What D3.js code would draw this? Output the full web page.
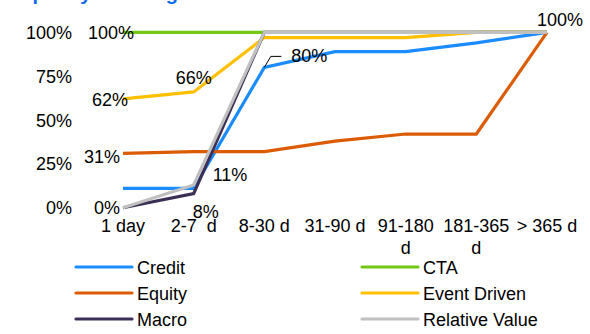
<!DOCTYPE html>
<html lang="en">
<head>
    <meta charset="UTF-8">
    <title>Liquidity Profiling</title>
    <script src="https://d3js.org/d3.v7.min.js"></script>
    <style>
        body {
            margin: 0;
            background: #ffffff;
        }
        text {
            font-family: "Liberation Sans", Arial, sans-serif;
            font-size: 18px;
            fill: #000000;
        }
    </style>
</head>
<body>
    <script>
        // data
        var categories = ["1 day", "2-7 d", "8-30 d", "31-90 d", "91-180 d", "181-365 d", "> 365 d"];
        var credit = [11, 11, 80, 89, 89, 94, 100];
        var cta = [100, 100, 100, 100, 100, 100, 100];
        var equity = [31, 32, 32, 38, 42, 42, 100];
        var eventDriven = [62, 66, 97, 97, 97, 100, 100];
        var macro = [0, 8, 100, 100, 100, 100, 100];
        var relativeValue = [0, 13, 100, 100, 100, 100, 100];
        var yTicks = [0, 25, 50, 75, 100];

        var seriesNames = ["Credit", "CTA", "Equity", "Event Driven", "Macro", "Relative Value"];
        var seriesValues = [credit, cta, equity, eventDriven, macro, relativeValue];
        var colors = ["#1a8cff", "#72c814", "#dc5c06", "#ffc000", "#3c2f56", "#c0c0c0"];

        var w = 590;
        var h = 334;

        var svg = d3.select("body")
            .append("svg")
            .attr("width", w)
            .attr("height", h);

        var xScale = d3.scalePoint()
            .domain(categories)
            .range([123, 547]);

        var yScale = d3.scaleLinear()
            .domain([0, 100])
            .range([207.7, 32.3]);

        // title, mostly cut off at the top
        svg.append("text")
            .attr("x", 8)
            .attr("y", 0)
            .text("Liquidity Profiling")
            .style("font-weight", "bold")
            .style("font-size", "20px")
            .style("fill", "#0a6cf0");

        // y axis labels only (no axis line)
        svg.selectAll(".ytick")
            .data(yTicks)
            .enter()
            .append("text")
            .attr("class", "ytick")
            .attr("x", 72)
            .attr("y", function (d) { return yScale(d) + 6.5; })
            .attr("text-anchor", "end")
            .text(function (d) { return d + "%"; });

        // x axis labels, long ones wrap onto a second line
        var xLabels = svg.selectAll(".xtick")
            .data(categories)
            .enter()
            .append("text")
            .attr("class", "xtick")
            .attr("text-anchor", "middle")
            .attr("y", 232);

        xLabels.each(function (d) {
            var el = d3.select(this);
            var x = xScale(d);
            var lines;
            if (d == "91-180 d" || d == "181-365 d") {
                lines = d.split(" ");
            } else if (d == "2-7 d") {
                lines = ["2-7\u00a0\u00a0d"];
            } else {
                lines = [d];
            }
            lines.forEach(function (t, i) {
                el.append("tspan")
                    .attr("x", x)
                    .attr("dy", i == 0 ? 0 : 22)
                    .text(t);
            });
        });

        var line = d3.line()
            .x(function (d, i) { return xScale(categories[i]); })
            .y(function (d) { return yScale(d); });

        svg.selectAll(".series")
            .data(seriesValues)
            .enter()
            .append("path")
            .attr("class", "series")
            .attr("d", function (d) { return line(d); })
            .attr("fill", "none")
            .attr("stroke", function (d, i) { return colors[i]; })
            .attr("stroke-width", 3.2)
            .attr("stroke-linejoin", "miter");

        // data labels
        function label(x, y, txt, anchor) {
            svg.append("text")
                .attr("x", x)
                .attr("y", y)
                .attr("text-anchor", anchor)
                .text(txt);
        }

        var x0 = xScale(categories[0]);
        var x1 = xScale(categories[1]);
        var x2 = xScale(categories[2]);
        var xLast = xScale(categories[6]);

        label(x0 + 11, yScale(cta[0]) + 6.5, cta[0] + "%", "end");
        label(x0 + 5, yScale(eventDriven[0]) + 7, eventDriven[0] + "%", "end");
        label(x0 - 3, yScale(equity[0]) + 10, equity[0] + "%", "end");
        label(x0 - 3, yScale(relativeValue[0]) + 6.5, relativeValue[0] + "%", "end");
        label(x1, yScale(eventDriven[1]) - 8, eventDriven[1] + "%", "middle");
        label(x1 + 12, yScale(macro[1]) + 24, macro[1] + "%", "middle");
        label(x1 + 19, yScale(credit[1]) - 7, credit[1] + "%", "start");
        label(x2 + 27, yScale(credit[2]) - 5, credit[2] + "%", "start");
        label(xLast + 13, yScale(100) - 6.5, "100%", "middle");

        // leader line for the 80% label
        svg.append("polyline")
            .attr("points", [
                [x2, yScale(credit[2])],
                [x2 + 6.5, yScale(credit[2]) - 11],
                [x2 + 17, yScale(credit[2]) - 11]
            ].join(" "))
            .attr("fill", "none")
            .attr("stroke", "#000000")
            .attr("stroke-width", 1);

        // legend, two columns
        var legend = svg.selectAll(".legend")
            .data(seriesNames)
            .enter()
            .append("g")
            .attr("class", "legend")
            .attr("transform", function (d, i) {
                var col = i % 2;
                var row = Math.floor(i / 2);
                return "translate(" + (col == 0 ? 76 : 362) + "," + (267 + row * 26) + ")";
            });

        legend.append("line")
            .attr("x1", 0)
            .attr("x2", 56)
            .attr("y1", 0)
            .attr("y2", 0)
            .attr("stroke", function (d, i) { return colors[i]; })
            .attr("stroke-width", 3.2)
            .attr("stroke-linecap", "round");

        legend.append("text")
            .attr("x", 61)
            .attr("y", 7)
            .text(function (d) { return d; });
    </script>
</body>
</html>
